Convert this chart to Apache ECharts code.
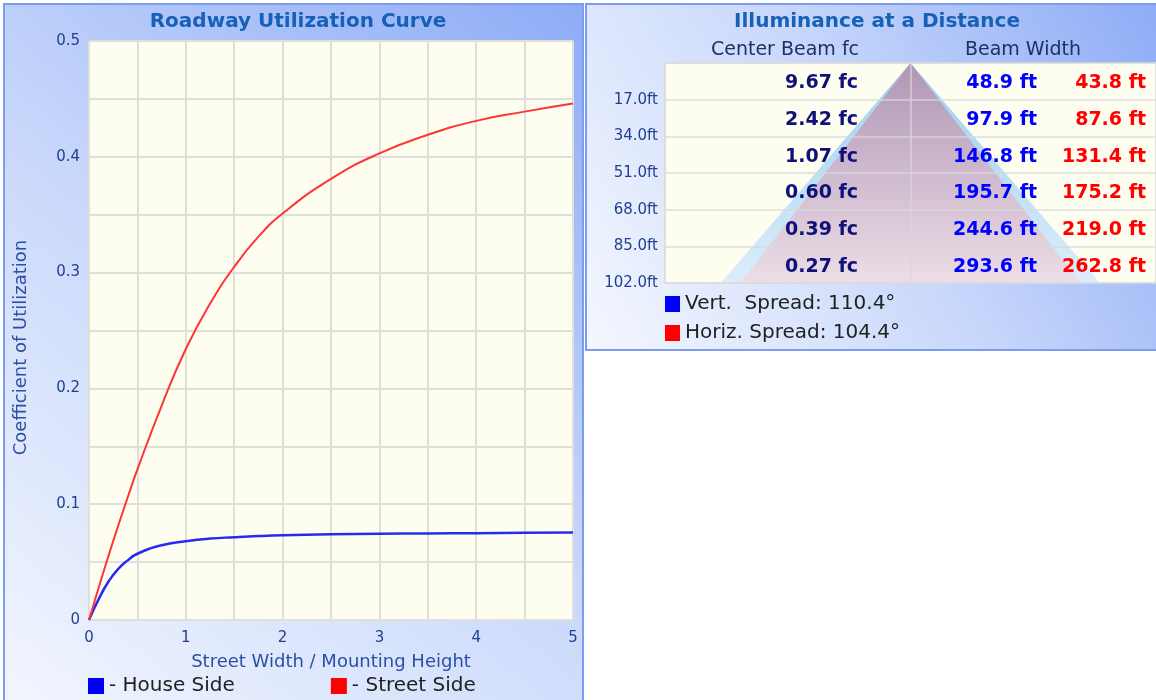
<!DOCTYPE html>
<html>
<head>
<meta charset="utf-8">
<script src="https://cdn.jsdelivr.net/npm/echarts@6/dist/echarts.min.js"></script>
<style>
html,body{margin:0;padding:0;background:#ffffff;}
#chart{width:1156px;height:700px;}
</style>
</head>
<body>
<div id="chart"></div>
<script>
// ---- Data: Roadway Utilization Curve ----
const xValues    = [0, 0.1, 0.2, 0.3, 0.4, 0.5, 0.75, 1, 1.25, 1.5, 1.75, 2, 2.5, 3, 3.5, 4, 4.5, 5];
const houseSide  = [0, 0.018, 0.033, 0.044, 0.0515, 0.0572, 0.0645, 0.068, 0.0703, 0.0715, 0.0725, 0.0732, 0.074, 0.0745, 0.0748, 0.075, 0.0753, 0.0755];
const streetSide = [0, 0.028, 0.055, 0.081, 0.106, 0.130, 0.185, 0.234, 0.273, 0.305, 0.331, 0.351, 0.381, 0.403, 0.419, 0.431, 0.439, 0.446];
const curveNames = ['House Side', 'Street Side'];

// ---- Data: Illuminance at a Distance ----
const distances      = [17, 34, 51, 68, 85, 102];
const centerBeamFc   = [9.67, 2.42, 1.07, 0.60, 0.39, 0.27];
const vertBeamWidth  = [48.9, 97.9, 146.8, 195.7, 244.6, 293.6];
const horizBeamWidth = [43.8, 87.6, 131.4, 175.2, 219.0, 262.8];
const spreadNames    = ['Vert.  Spread', 'Horiz. Spread'];
const spreadAngles   = [110.4, 104.4];

const FONT = "'DejaVu Sans', Verdana, sans-serif";
const chart = echarts.init(document.getElementById('chart'), null, {renderer: 'canvas'});

function panelGradient() {
  return new echarts.graphic.LinearGradient(0, 1, 1, 0, [
    {offset: 0, color: '#f4f7fe'},
    {offset: 0.5, color: '#c9d8fb'},
    {offset: 1, color: '#8dacf6'}
  ]);
}

const spreadLabel = (i) => spreadNames[i] + ': ' + spreadAngles[i].toFixed(1) + '\u00b0';
const maxDist = distances[distances.length - 1];
const rowStep = distances[0];

function triangleRender(fillTop, fillBottom) {
  return function (params, api) {
    const half = maxDist * Math.tan(api.value(0) / 2 * Math.PI / 180);
    const apex = api.coord([0, 0]);
    const l = api.coord([-half, maxDist]);
    const r = api.coord([half, maxDist]);
    const cs = params.coordSys;
    return {
      type: 'polygon',
      shape: {points: [apex, l, r]},
      clipPath: {type: 'rect', shape: {x: cs.x, y: cs.y, width: cs.width, height: cs.height}},
      style: {
        fill: new echarts.graphic.LinearGradient(0, 0, 0, 1, [
          {offset: 0, color: fillTop}, {offset: 1, color: fillBottom}
        ])
      }
    };
  };
}

const option = {
  animation: false,
  textStyle: {fontFamily: FONT},
  graphic: [
    {type: 'rect', z: -10, shape: {x: 4, y: 4, width: 579, height: 720},
     style: {fill: panelGradient(), stroke: '#7c9cf0', lineWidth: 2}},
    {type: 'rect', z: -10, shape: {x: 586, y: 4, width: 574, height: 346},
     style: {fill: panelGradient(), stroke: '#7c9cf0', lineWidth: 2}}
  ],
  title: [
    {text: 'Roadway Utilization Curve', left: 293, top: 7, textAlign: 'center',
     textStyle: {fontFamily: FONT, fontSize: 20, fontWeight: 'bold', color: '#1660b8'}},
    {text: 'Illuminance at a Distance', left: 872, top: 7, textAlign: 'center',
     textStyle: {fontFamily: FONT, fontSize: 20, fontWeight: 'bold', color: '#1660b8'}},
    {text: 'Center Beam fc', left: 780, top: 36, textAlign: 'center',
     textStyle: {fontFamily: FONT, fontSize: 19, fontWeight: 'normal', color: '#1f2f66'}},
    {text: 'Beam Width', left: 1018, top: 36, textAlign: 'center',
     textStyle: {fontFamily: FONT, fontSize: 19, fontWeight: 'normal', color: '#1f2f66'}}
  ],
  legend: [
    {
      data: curveNames, left: 88, top: 676, padding: 0, itemWidth: 16, itemHeight: 16, itemGap: 96,
      icon: 'rect', formatter: '- {name}', selectedMode: false,
      textStyle: {fontFamily: FONT, fontSize: 20, color: '#222222'}
    },
    {
      data: spreadNames.map((n, i) => spreadLabel(i)), left: 665, top: 294, padding: 0, orient: 'vertical',
      itemWidth: 15, itemHeight: 16, itemGap: 9, icon: 'rect', selectedMode: false,
      textStyle: {fontFamily: FONT, fontSize: 20, color: '#222222'}
    }
  ],
  grid: [
    {left: 89, top: 41, width: 484, height: 579, show: true, backgroundColor: '#fdfdf0', borderWidth: 0},
    {left: 665, top: 63, width: 491, height: 220, show: true, backgroundColor: '#fdfdf0', borderColor: '#dcdcdc', borderWidth: 1}
  ],
  xAxis: [
    {
      type: 'value', gridIndex: 0, min: 0, max: 5, interval: 0.5,
      name: 'Street Width / Mounting Height', nameLocation: 'middle', nameGap: 33,
      nameTextStyle: {fontFamily: FONT, fontSize: 18, color: '#2a50a4'},
      axisLine: {show: false}, axisTick: {show: false},
      axisLabel: {fontFamily: FONT, fontSize: 15, color: '#213f91', margin: 11,
        formatter: v => (Math.abs(v - Math.round(v)) < 1e-6 ? String(Math.round(v)) : '')},
      splitLine: {show: true, lineStyle: {color: '#e0e0da', width: 2}}
    },
    {
      type: 'value', gridIndex: 1, min: -190, max: 190, interval: 190, z: 3,
      axisLine: {show: false}, axisTick: {show: false}, axisLabel: {show: false},
      splitLine: {show: true, lineStyle: {color: 'rgba(215,215,215,0.85)', width: 1.5}}
    }
  ],
  yAxis: [
    {
      type: 'value', gridIndex: 0, min: 0, max: 0.5, interval: 0.05,
      name: 'Coefficient of Utilization', nameLocation: 'middle', nameGap: 59,
      nameTextStyle: {fontFamily: FONT, fontSize: 18, color: '#2a50a4', padding: [0, 34, 0, 0]},
      axisLine: {show: false}, axisTick: {show: false},
      axisLabel: {fontFamily: FONT, fontSize: 15, color: '#213f91', margin: 9,
        formatter: v => {
          const t = v * 10;
          if (Math.abs(t - Math.round(t)) > 1e-6) return '';
          return v === 0 ? '0' : (Math.round(t) / 10).toFixed(1);
        }},
      splitLine: {show: true, lineStyle: {color: '#e0e0da', width: 2}}
    },
    {
      type: 'value', gridIndex: 1, min: 0, max: maxDist, interval: rowStep, inverse: true, z: 3,
      axisLine: {show: false}, axisTick: {show: false},
      axisLabel: {fontFamily: FONT, fontSize: 15, color: '#213f91', margin: 7,
        formatter: v => (v === 0 ? '' : v.toFixed(1) + 'ft')},
      splitLine: {show: true, lineStyle: {color: 'rgba(215,215,215,0.85)', width: 1.5}}
    }
  ],
  series: [
    {
      name: curveNames[0], type: 'line', xAxisIndex: 0, yAxisIndex: 0,
      data: xValues.map((x, i) => [x, houseSide[i]]),
      smooth: true, showSymbol: false, symbol: 'none',
      itemStyle: {color: '#0000ff'},
      lineStyle: {color: '#2a2aee', width: 2.5}
    },
    {
      name: curveNames[1], type: 'line', xAxisIndex: 0, yAxisIndex: 0,
      data: xValues.map((x, i) => [x, streetSide[i]]),
      smooth: true, showSymbol: false, symbol: 'none',
      itemStyle: {color: '#ff0000'},
      lineStyle: {color: '#ff3434', width: 2}
    },
    {
      name: spreadLabel(0), type: 'custom', xAxisIndex: 1, yAxisIndex: 1, z: 1,
      itemStyle: {color: '#0000ff'}, silent: true,
      data: [[spreadAngles[0]]],
      renderItem: triangleRender('#9dd0f2', '#dcedfa')
    },
    {
      name: spreadLabel(1), type: 'custom', xAxisIndex: 1, yAxisIndex: 1, z: 2,
      itemStyle: {color: '#ff0000'}, silent: true,
      data: [[spreadAngles[1]]],
      renderItem: triangleRender('#b096b6', '#ecdde6')
    },
    {
      name: 'table', type: 'custom', xAxisIndex: 1, yAxisIndex: 1, z: 10, silent: true,
      data: distances.map((d, i) => [d, centerBeamFc[i], vertBeamWidth[i], horizBeamWidth[i]]),
      renderItem: function (params, api) {
        const cs = params.coordSys;
        const y = api.coord([0, api.value(0) - rowStep / 2])[1] + 2;
        const font = "bold 19px " + FONT;
        return {
          type: 'group',
          children: [
            {type: 'text', x: cs.x + 193, y: y, style: {text: api.value(1).toFixed(2) + ' fc', font: font, fill: '#10107a', align: 'right', verticalAlign: 'middle'}},
            {type: 'text', x: cs.x + 372, y: y, style: {text: api.value(2).toFixed(1) + ' ft', font: font, fill: '#0000ff', align: 'right', verticalAlign: 'middle'}},
            {type: 'text', x: cs.x + 481, y: y, style: {text: api.value(3).toFixed(1) + ' ft', font: font, fill: '#ff0000', align: 'right', verticalAlign: 'middle'}}
          ]
        };
      }
    }
  ]
};
chart.setOption(option);
</script>
</body>
</html>
